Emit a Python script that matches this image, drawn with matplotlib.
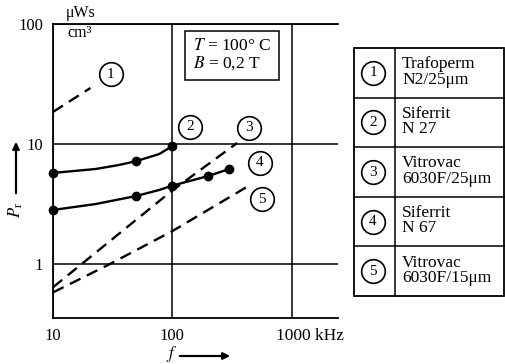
import matplotlib
matplotlib.use("Agg")
import matplotlib.pyplot as plt
from matplotlib.patches import Rectangle

plt.rcParams['font.family'] = ['Liberation Serif', 'DejaVu Serif']
plt.rcParams['mathtext.fontset'] = 'stix'

# ---- data ----
freq_1 = [10, 20.6]
loss_1 = [18.5, 29.3]

freq_2 = [10, 22.7, 35.6, 50, 77.6, 100]
loss_2 = [5.74, 6.19, 6.68, 7.21, 8.25, 9.6]
mark_freq_2 = [10, 50, 100]
mark_loss_2 = [5.74, 7.21, 9.6]

freq_3 = [10, 100, 350]
loss_3 = [0.64, 4.1, 10.2]

freq_4 = [10, 22.7, 50, 77.6, 100, 200, 300]
loss_4 = [2.82, 3.16, 3.69, 4.14, 4.5, 5.41, 6.19]
mark_freq_4 = [10, 50, 100, 200, 300]
mark_loss_4 = [2.82, 3.69, 4.5, 5.41, 6.19]

freq_5 = [10, 30, 100, 440]
loss_5 = [0.58, 1.0, 1.88, 4.5]

curve_ids = ['1', '2', '3', '4', '5']
label_freq = [30.4, 142, 440, 540, 567]
label_loss = [38.3, 13.9, 13.6, 6.95, 3.48]

legend_names = ['Trafoperm\nN2/25μm', 'Siferrit\nN 27', 'Vitrovac\n6030F/25μm',
                'Siferrit\nN 67', 'Vitrovac\n6030F/15μm']

x_ticks = [10, 100, 1000]
x_ticklabels = ['10', '100', '']
y_ticks = [1, 10, 100]
y_ticklabels = ['1', '10', '100']

W, H = 505, 364
fig = plt.figure(figsize=(W / 100, H / 100), dpi=100)

# ---- main axes ----
L, R, T, B = 53, 338, 24, 318
ax = fig.add_axes([L / W, 1 - B / H, (R - L) / W, (B - T) / H])
ax.set_xscale('log')
ax.set_yscale('log')
ax.set_xlim(10, 2450)
ax.set_ylim(0.355, 100)
ax.minorticks_off()
ax.set_xticks(x_ticks)
ax.set_xticklabels(x_ticklabels)
ax.set_yticks(y_ticks)
ax.set_yticklabels(y_ticklabels)
ax.tick_params(length=0, labelsize=12, pad=7)
for s in ['left', 'top', 'bottom']:
    ax.spines[s].set_linewidth(1.3)
ax.spines['right'].set_visible(False)
ax.grid(True, color='black', lw=1.1)
ax.set_axisbelow(True)

dash = (0, (5, 3))
lw = 1.7
ax.plot(freq_1, loss_1, color='black', lw=lw, linestyle=dash)
ax.plot(freq_2, loss_2, color='black', lw=lw)
ax.plot(mark_freq_2, mark_loss_2, 'o', color='black', ms=6, clip_on=False)
ax.plot(freq_3, loss_3, color='black', lw=lw, linestyle=dash)
ax.plot(freq_4, loss_4, color='black', lw=lw)
ax.plot(mark_freq_4, mark_loss_4, 'o', color='black', ms=6, clip_on=False)
ax.plot(freq_5, loss_5, color='black', lw=lw, linestyle=dash)

for cid, fx, fy in zip(curve_ids, label_freq, label_loss):
    ax.plot(fx, fy, 'o', ms=17, mfc='white', mec='black', mew=1.2, zorder=5)
    ax.text(fx, fy, cid, ha='center', va='center', fontsize=11, zorder=6)

ax.annotate('1000 kHz', xy=(1000, 0.355), xytext=(-11, -7),
            textcoords='offset points', ha='left', va='top', fontsize=12.5)

ax.text(0.49, 0.952, '$T$ = 100° C\n$B$ = 0,2 T', transform=ax.transAxes,
        ha='left', va='top', fontsize=12.5, linespacing=1.0,
        bbox=dict(boxstyle='square,pad=0.45', fc='white', ec='black', lw=1.1))

# ---- overlay in pixel coordinates ----
ov = fig.add_axes([0, 0, 1, 1])
ov.set_xlim(0, W)
ov.set_ylim(H, 0)
ov.axis('off')
ov.patch.set_visible(False)

ov.text(81, 13, 'μWs', ha='center', va='center', fontsize=11.5)
ov.text(80, 33, 'cm³', ha='center', va='center', fontsize=11.5)

ov.annotate('', xy=(16, 139), xytext=(16, 196),
            arrowprops=dict(arrowstyle='-|>', color='black', lw=1.6, mutation_scale=10))
ov.text(16, 210, '$P_{\\mathrm{r}}$', rotation=90, ha='center', va='center', fontsize=12)
ov.text(172, 354, '$f$', ha='center', va='center', fontsize=12)
ov.annotate('', xy=(233, 356), xytext=(177, 356),
            arrowprops=dict(arrowstyle='-|>', color='black', lw=1.6, mutation_scale=10))

# legend table
tx0, tx1, tdiv = 354, 504, 395
ty0, ty1 = 48, 296
rowh = (ty1 - ty0) / len(legend_names)
ov.add_patch(Rectangle((tx0, ty0), tx1 - tx0, ty1 - ty0, fill=False, ec='black', lw=1.3))
ov.plot([tdiv, tdiv], [ty0, ty1], color='black', lw=1.1)
for i, (cid, name) in enumerate(zip(curve_ids, legend_names)):
    yc = ty0 + rowh * (i + 0.5)
    if i > 0:
        ov.plot([tx0, tx1], [ty0 + rowh * i, ty0 + rowh * i], color='black', lw=1.1)
    ov.plot(373, yc, 'o', ms=17, mfc='white', mec='black', mew=1.2)
    ov.text(373, yc, cid, ha='center', va='center', fontsize=11)
    ov.text(402, yc - 1, name, ha='left', va='center', fontsize=12.5, linespacing=0.95)

fig.savefig('out.png', dpi=100)
